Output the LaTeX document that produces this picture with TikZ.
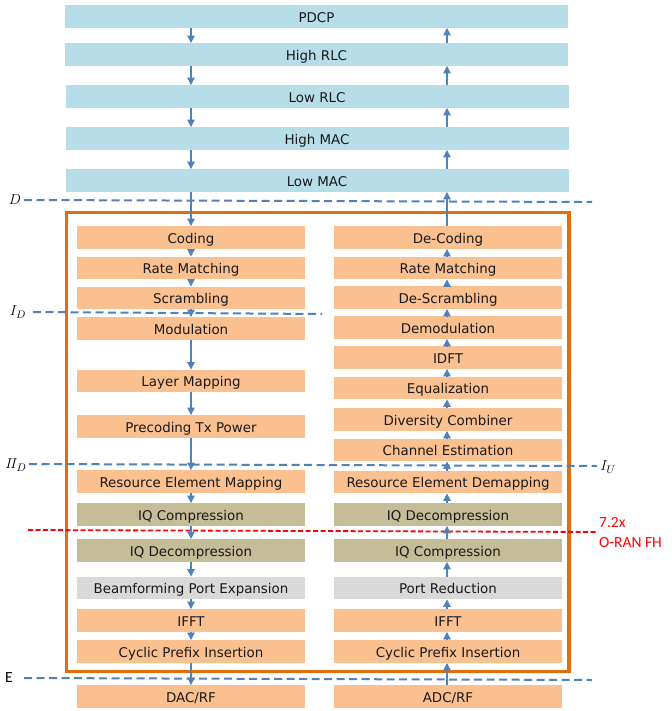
\documentclass[tikz,border=0pt]{standalone}
\usepackage{amsmath}
\usepackage{fontspec}
\setmainfont{DejaVu Sans}
\newfontfamily\notefont{Carlito}
\usepackage{xcolor}
\usetikzlibrary{arrows.meta}
\definecolor{macblue}{HTML}{B7DDE8}
\definecolor{phyorange}{HTML}{FAC090}
\definecolor{iqolive}{HTML}{C4BD97}
\definecolor{portgray}{HTML}{D9D9D9}
\definecolor{flowblue}{HTML}{4F81BD}
\definecolor{frameorange}{HTML}{E46C0A}
\tikzset{box/.style={minimum width=228pt, minimum height=22.5pt, inner sep=0pt,
   text height=11.6pt, text depth=0pt, font=\fontsize{13.4}{15}\selectfont, text=black!90},
 layer/.style={box, fill=macblue, minimum width=503pt},
 phy/.style={box, fill=phyorange},
 iq/.style={box, fill=iqolive},
 port/.style={box, fill=portgray},
 flow/.style={draw=flowblue, line width=1.2pt, -{Triangle[length=7.5pt,width=7.5pt]}},
 cut/.style={draw=flowblue, line width=2pt, dash pattern=on 8pt off 4.5pt},
 fh/.style={draw=red, line width=1.8pt, dash pattern=on 5pt off 2.5pt},
 cutlabel/.style={font=\fontsize{15}{17}\selectfont, inner sep=0pt},
 }

\begin{document}
\begin{tikzpicture}[x=1pt,y=-1pt]
        \useasboundingbox (0,0) rectangle (671,711);
        \node[layer] (pdcp) at (316.5,16.5) {PDCP};
        \node[layer] (hrlc) at (316.5,54.5) {High RLC};
        \node[layer] (lrlc) at (317,96.5) {Low RLC};
        \node[layer] (hmac) at (317,138.5) {High MAC};
        \node[layer] (lmac) at (317,180.5) {Low MAC};
        \draw[frameorange, line width=3.2pt] (66.3,212.8) rectangle (569,671.3);
        \node[phy] (coding) at (191,237.5) {Coding};
        \node[phy] (ratematch) at (191,268) {Rate Matching};
        \node[phy] (scramb) at (191,298) {Scrambling};
        \node[phy] (modul) at (191,328.5) {Modulation};
        \node[phy] (layermap) at (191,381) {Layer Mapping};
        \node[phy] (precod) at (191,426.5) {Precoding Tx Power};
        \node[phy] (remap) at (191,481.5) {Resource Element Mapping};
        \node[iq] (iqcomp) at (191,514.5) {IQ Compression};
        \node[iq] (iqdecomp) at (191,550.5) {IQ Decompression};
        \node[port] (bfexp) at (191,588) {Beamforming Port Expansion};
        \node[phy] (ifft) at (191,620.5) {IFFT};
        \node[phy] (cpins) at (191,651.5) {Cyclic Prefix Insertion};
        \node[phy] (dac) at (191,696.5) {DAC/RF};
        \node[phy] (decoding) at (448,237.5) {De-Coding};
        \node[phy] (rratematch) at (448,268) {Rate Matching};
        \node[phy] (descramb) at (448,297.5) {De-Scrambling};
        \node[phy] (demod) at (448,327.5) {Demodulation};
        \node[phy] (idft) at (448,357.5) {IDFT};
        \node[phy] (equal) at (448,388) {Equalization};
        \node[phy] (divcomb) at (448,419.5) {Diversity Combiner};
        \node[phy] (chest) at (448,450) {Channel Estimation};
        \node[phy] (redemap) at (448,482) {Resource Element Demapping};
        \node[iq] (riqdecomp) at (448,514.5) {IQ Decompression};
        \node[iq] (riqcomp) at (448,550.5) {IQ Compression};
        \node[port] (portred) at (448,588) {Port Reduction};
        \node[phy] (rifft) at (448,620.5) {IFFT};
        \node[phy] (rcpins) at (448,651.5) {Cyclic Prefix Insertion};
        \node[phy] (adc) at (448,696.5) {ADC/RF};
        \node[cutlabel] (dcut) at (15,200) {$D$};
        \draw[cut] (24,200) -- (592,202);
        \node[cutlabel] (idcut) at (18,312) {$I_D$};
        \draw[cut] (33,312) -- (322,314);
        \node[cutlabel] (iidcut) at (16,465) {$I\!I_D$};
        \draw[cut] (29,464) -- (597,466);
        \node[cutlabel] (iucut) at (608,467) {$I_U$};
        \draw[fh] (28,530) -- (597,532);
        \node[cutlabel, text=red, anchor=west, align=left, font=\notefont\fontsize{15.5}{20}\selectfont] (fhlabel) at (599,533) {7.2x\\O-RAN FH};
        \node[cutlabel, font=\notefont\fontsize{15.5}{17}\selectfont] (ecut) at (9,678) {E};
        \draw[cut] (24,678) -- (592,680);
        \foreach \a/\b in {pdcp/hrlc, hrlc/lrlc, lrlc/hmac, hmac/lmac, lmac/coding, coding/ratematch,
            ratematch/scramb, scramb/modul, modul/layermap, layermap/precod, precod/remap, remap/iqcomp,
            iqcomp/iqdecomp, iqdecomp/bfexp, bfexp/ifft, ifft/cpins, cpins/dac}
            \draw[flow] (\a.south -| coding) -- (\b.north -| coding);
        \foreach \a/\b in {adc/rcpins, rcpins/rifft, rifft/portred, portred/riqcomp, riqcomp/riqdecomp,
            riqdecomp/redemap, redemap/chest, chest/divcomb, divcomb/equal, equal/idft, idft/demod,
            demod/descramb, descramb/rratematch, rratematch/decoding, decoding/lmac, lmac/hmac,
            hmac/lrlc, lrlc/hrlc, hrlc/pdcp}
            \draw[flow] ([xshift=-1pt]\a.north -| decoding) -- ([xshift=-1pt]\b.south -| decoding);
    \end{tikzpicture}
\end{document}
